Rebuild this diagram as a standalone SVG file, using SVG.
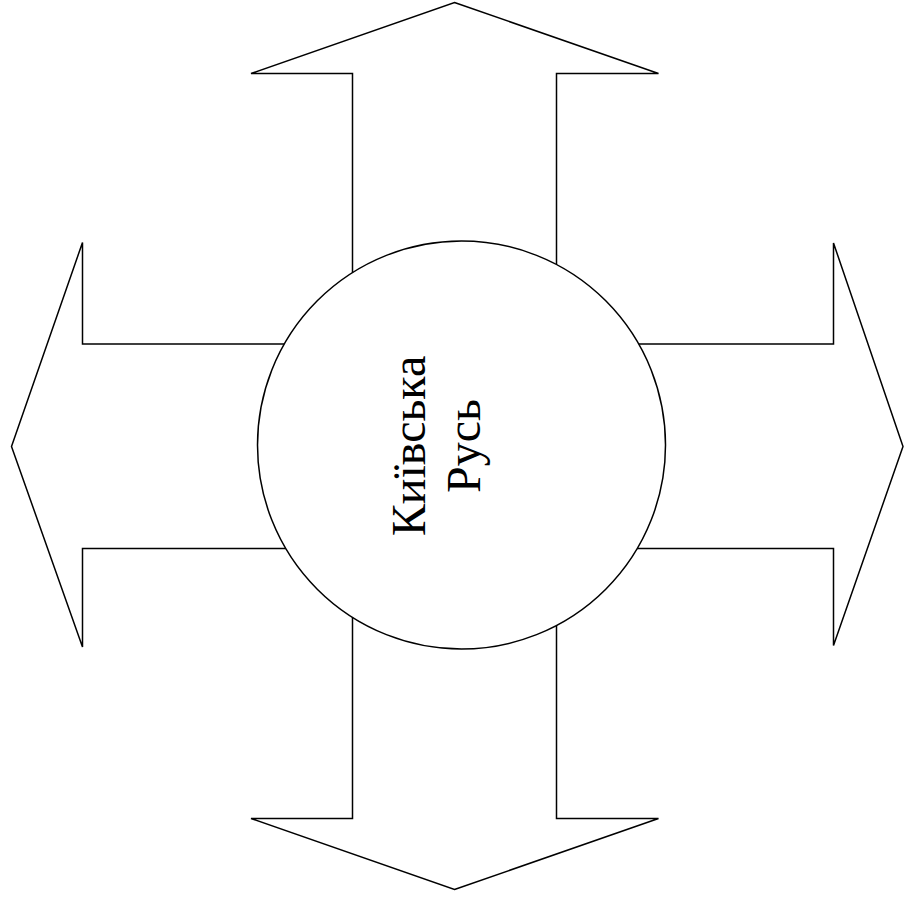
<svg xmlns="http://www.w3.org/2000/svg" width="904" height="905" viewBox="0 0 904 905">
<style>
.shape{fill:#fff;stroke:#000;stroke-width:1.5;stroke-linejoin:miter}
.label{font-family:"Liberation Serif","Times New Roman",serif;font-size:48px;fill:#000;text-anchor:middle}
</style>
<rect width="904" height="905" fill="#fff"/>
<g id="arrow-up">
<polygon class="shape" points="454.5,2.5 658.5,73.5 556.5,73.5 556.5,330 352.5,330 352.5,73.5 251,73.5"/>
</g>
<g id="arrow-down">
<polygon class="shape" points="454.5,889.5 658.5,818.5 556.5,818.5 556.5,560 352.5,560 352.5,818.5 251,818.5"/>
</g>
<g id="arrow-left">
<polygon class="shape" points="11.5,446.5 82.5,242.5 82.5,344 320,344 320,548.5 82.5,548.5 82.5,647"/>
</g>
<g id="arrow-right">
<polygon class="shape" points="903,446.5 833.5,243 833.5,344 600,344 600,548.5 833.5,548.5 833.5,645.5"/>
</g>
<g id="center">
<circle class="shape" cx="461.5" cy="445" r="204"/>
<g transform="translate(0,446) rotate(-90)">
<text class="label" x="0" y="425">Київська</text>
<text class="label" x="0" y="480">Русь</text>
</g>
</g>
</svg>
